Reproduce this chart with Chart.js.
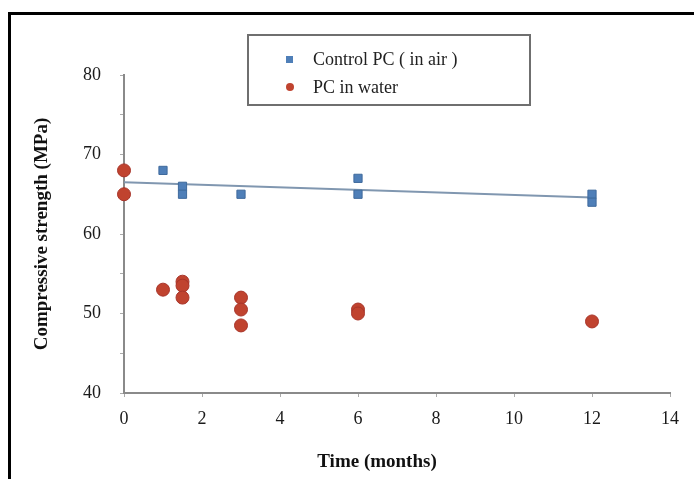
<!DOCTYPE html>
<html>
<head>
<meta charset="utf-8">
<script src="https://cdn.jsdelivr.net/npm/chart.js@4"></script>
<style>
  body { margin: 0; background: #fff; }
  #wrap { position: relative; width: 694px; height: 479px; overflow: hidden; }
  #frame { position: absolute; left: 8px; top: 12px; width: 720px; height: 520px; border: 3px solid #000; }
  #chart { position: absolute; left: 0; top: 0; }
</style>
</head>
<body>
<div id="wrap">
  <div id="frame"></div>
  <canvas id="chart" width="694" height="479"></canvas>
</div>
<script>
// data
var airTime = [1, 1.5, 1.5, 3, 6, 6, 12, 12];
var airStrength = [68, 66, 65, 65, 67, 65, 65, 64];
var waterTime = [0, 0, 1, 1.5, 1.5, 1.5, 3, 3, 3, 6, 6, 12];
var waterStrength = [68, 65, 53, 54, 53.5, 52, 52, 50.5, 48.5, 50.5, 50, 49];
var trendTime = [0, 12];
var trendStrength = [66.5, 64.6];

var seriesNames = ['Control PC ( in air )', 'PC in water'];
var xTitle = 'Time (months)';
var yTitle = 'Compressive strength (MPa)';

function toPoints(xs, ys) {
  return xs.map(function(x, i) { return {x: x, y: ys[i]}; });
}

var serif = '"Liberation Serif", "DejaVu Serif", serif';

// boxed legend + x title, drawn on top of the plot
var extras = {
  id: 'extras',
  afterDraw: function(chart) {
    var ctx = chart.ctx;
    ctx.save();
    // legend box
    ctx.strokeStyle = '#6f6f6f';
    ctx.lineWidth = 2;
    ctx.fillStyle = '#fff';
    ctx.fillRect(248, 35, 282, 70);
    ctx.strokeRect(248, 35, 282, 70);
    ctx.font = '18px ' + serif;
    ctx.textBaseline = 'middle';
    ctx.fillStyle = '#4f7fb8';
    ctx.fillRect(286, 56, 7, 7);
    ctx.fillStyle = '#c0432f';
    ctx.beginPath();
    ctx.arc(290, 87, 4, 0, Math.PI * 2);
    ctx.fill();
    ctx.fillStyle = '#222';
    ctx.fillText(seriesNames[0], 313, 60);
    ctx.fillText(seriesNames[1], 313, 88);
    // x axis title
    ctx.font = 'bold 19px ' + serif;
    ctx.textAlign = 'center';
    ctx.fillStyle = '#111';
    ctx.fillText(xTitle, (chart.chartArea.left + chart.chartArea.right) / 2 - 20, 462);
    ctx.restore();
  }
};

new Chart(document.getElementById('chart'), {
  type: 'scatter',
  data: {
    datasets: [
      {
        label: 'trend',
        type: 'line',
        data: toPoints(trendTime, trendStrength),
        borderColor: '#8097b0',
        borderWidth: 2,
        pointRadius: 0,
        order: 3
      },
      {
        label: seriesNames[0],
        data: toPoints(airTime, airStrength),
        pointStyle: 'rect',
        pointRadius: 5.8,
        backgroundColor: '#4f7fb8',
        borderColor: '#3f6a9c',
        borderWidth: 1,
        clip: false,
        order: 2
      },
      {
        label: seriesNames[1],
        data: toPoints(waterTime, waterStrength),
        pointStyle: 'circle',
        pointRadius: 6.5,
        backgroundColor: '#c0432f',
        borderColor: '#a8352a',
        borderWidth: 1,
        clip: false,
        order: 1
      }
    ]
  },
  options: {
    responsive: false,
    animation: false,
    layout: { padding: { top: 75, right: 24, left: 0, bottom: 0 } },
    plugins: {
      legend: { display: false },
      tooltip: { enabled: false }
    },
    scales: {
      x: {
        type: 'linear',
        min: 0,
        max: 14,
        afterFit: function(scale) { scale.height = 86; },
        border: { color: '#8a8a8a', width: 2 },
        grid: { drawOnChartArea: false, drawTicks: true, tickLength: 4, color: '#aaa' },
        ticks: {
          stepSize: 2,
          padding: 11,
          color: '#1a1a1a',
          font: { family: serif, size: 18 }
        },
        title: { display: false }
      },
      y: {
        min: 40,
        max: 80,
        afterFit: function(scale) { scale.width = 124; },
        border: { color: '#8a8a8a', width: 2 },
        grid: { drawOnChartArea: false, drawTicks: true, tickLength: 4, color: '#aaa' },
        ticks: {
          stepSize: 5,
          padding: 19,
          color: '#1a1a1a',
          font: { family: serif, size: 18 },
          callback: function(v) { return v % 10 === 0 ? v : ''; }
        },
        title: {
          display: true,
          text: yTitle,
          color: '#111',
          font: { family: serif, size: 19, weight: 'bold' },
          padding: { top: 31, bottom: 0 }
        }
      }
    }
  },
  plugins: [extras]
});
</script>
</body>
</html>
